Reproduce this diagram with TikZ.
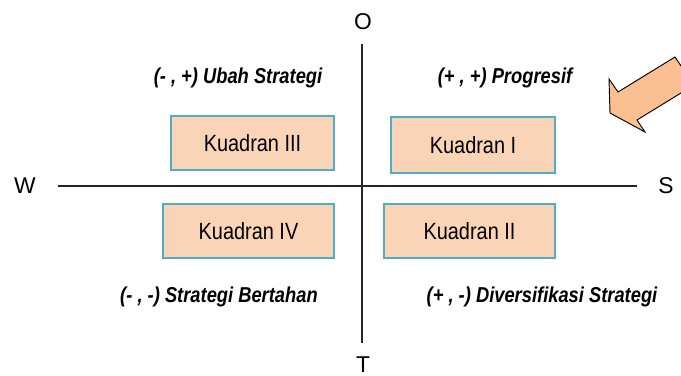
\documentclass[tikz,border=0pt]{standalone}
\usepackage{fontspec}
\setmainfont{Liberation Sans}
\newfontfamily\narrowfont{Liberation Sans}[FakeStretch=0.85]
\usepackage{xcolor}
\usetikzlibrary{arrows.meta,positioning}
\definecolor{boxfill}{RGB}{250,212,182}
\definecolor{boxline}{RGB}{80,172,200}
\definecolor{arrowfill}{RGB}{250,192,145}

\begin{document}
\begin{tikzpicture}[x=0.03cm, y=-0.03cm]
    \tikzstyle{quad}=[draw=boxline, line width=1.5pt, fill=boxfill, inner sep=0pt, font=\narrowfont\fontsize{20}{24}\selectfont]
    \tikzstyle{axislabel}=[font=\fontsize{19.5}{23}\selectfont, inner sep=0pt]
    \tikzstyle{note}=[font=\narrowfont\fontsize{18.4}{22}\selectfont\bfseries\itshape, inner sep=0pt]
    \useasboundingbox (0,0) rectangle (681,376);
    % Axes
    \coordinate (top) at (362,44);
    \coordinate (bottom) at (362,343);
    \coordinate (left) at (58,186);
    \coordinate (right) at (637,186);
    \draw[line width=1.2pt, black!85] (top) -- (bottom);
    \draw[line width=1.2pt, black!85] (left) -- (right);
    \node[axislabel] (o) at (363,22) {O};
    \node[axislabel] (t) at (363,365) {T};
    \node[axislabel] (w) at (25,186) {W};
    \node[axislabel] (s) at (666,186) {S};
    % Quadrants
    \node[quad, minimum width=4.89cm, minimum height=1.62cm] (q3) at (252.5,143) {Kuadran III};
    \node[quad, minimum width=4.92cm, minimum height=1.68cm] (q1) at (473,145) {Kuadran I};
    \node[quad, minimum width=5.13cm, minimum height=1.62cm] (q4) at (248.5,231) {Kuadran IV};
    \node[quad, minimum width=5.13cm, minimum height=1.62cm] (q2) at (469.5,231) {Kuadran II};
    % Strategies
    \node[note] (ubah) at (238,78) {(- , +) Ubah Strategi};
    \node[note] (prog) at (505,78) {(+ , +) Progresif};
    \node[note] (tahan) at (219,297) {(- , -) Strategi Bertahan};
    \node[note] (div) at (542,297) {(+ , -) Diversifikasi Strategi};
    % Block arrow
    \begin{scope}
        \clip (0,0) rectangle (681,376);
        \draw[fill=arrowfill, line width=0.8pt, line join=miter] (610,113) -- (609,79) -- (618,92) -- (675,57) -- (694,85) -- (637,120) -- (645,132) -- cycle;
    \end{scope}
\end{tikzpicture}
\end{document}
